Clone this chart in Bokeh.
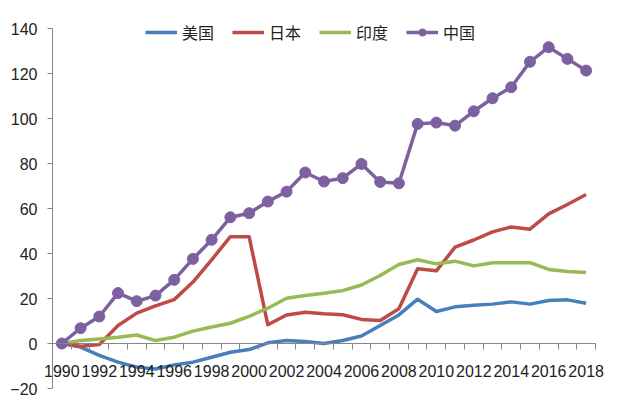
from bokeh.plotting import figure
from bokeh.models import FixedTicker, Range1d
from bokeh.embed import file_html
from bokeh.resources import INLINE

years = list(range(1990, 2019))
year_labels = list(range(1990, 2019, 2))
y_ticks = list(range(-20, 141, 20))

usa = [0, -1.6, -5.3, -8.3, -10.5, -11.3, -9.5, -8.3, -6.1, -3.9, -2.7,
       0.3, 1.3, 0.9, 0.0, 1.3, 3.3, 8.0, 12.7, 19.7, 14.2,
       16.3, 17.0, 17.5, 18.5, 17.5, 19.1, 19.4, 17.9]
japan = [0, -1.2, -0.4, 8.0, 13.5, 16.7, 19.5, 27.3, 37.2, 47.5, 47.5,
         8.3, 12.7, 13.9, 13.2, 12.8, 10.7, 10.2, 15.4, 33.2, 32.3,
         42.8, 46.0, 49.6, 51.8, 50.8, 57.6, 61.8, 66.2]
india = [0, 1.3, 2.0, 2.8, 3.8, 1.3, 2.8, 5.5, 7.3, 9.0, 12.1,
         15.7, 20.1, 21.3, 22.3, 23.5, 26.0, 30.2, 35.1, 37.2, 35.4,
         36.6, 34.5, 35.9, 35.9, 35.9, 32.9, 32.0, 31.6]
china = [0, 6.8, 12.0, 22.4, 18.8, 21.3, 28.3, 37.6, 46.1, 56.1, 57.9,
         63.1, 67.5, 76.0, 72.0, 73.5, 79.8, 71.8, 71.2, 97.6, 98.2,
         96.8, 103.2, 109.0, 113.9, 125.2, 131.7, 126.5, 121.3]

names = ["美国", "日本", "印度", "中国"]
colors = ["#4A7EBB", "#BE4B48", "#98B954", "#7D60A0"]

# Frame covers the whole canvas; the axes sit at fixed data locations,
# so nothing they draw is clipped.
W, H = 640, 405
px_x = 543 / 29.0     # pixels per year
px_y = 360 / 160.0    # pixels per unit
x0, x1 = 1989.5 - 52 / px_x, 2018.5 + (W - 595) / px_x
y0, y1 = -20 - (H - 388) / px_y, 140 + 28 / px_y

p = figure(width=W, height=H, output_backend="svg", toolbar_location=None,
           title=None, x_range=Range1d(x0, x1), y_range=Range1d(y0, y1),
           min_border=0)
p.outline_line_color = None
p.xgrid.visible = False
p.ygrid.visible = False

axis_color = "#868686"
text_color = "#222222"

xa = p.xaxis[0]
xa.ticker = FixedTicker(ticks=year_labels,
                        minor_ticks=[y - 0.5 for y in years] + [2018.5])
xa.fixed_location = 0
xa.bounds = (1989.5, 2018.5)
xa.major_tick_out = 0
xa.major_tick_in = 0
xa.minor_tick_out = 6
xa.minor_tick_in = 0
xa.axis_line_color = axis_color
xa.minor_tick_line_color = axis_color
xa.major_label_standoff = 15
xa.major_label_text_font = "Liberation Sans"
xa.major_label_text_font_size = "16px"
xa.major_label_text_color = text_color

ya = p.yaxis[0]
ya.ticker = FixedTicker(ticks=y_ticks)
ya.fixed_location = 1989.5
ya.bounds = (-20, 140)
ya.major_tick_out = 5
ya.major_tick_in = 0
ya.minor_tick_out = 0
ya.minor_tick_in = 0
ya.axis_line_color = axis_color
ya.major_tick_line_color = axis_color
ya.major_label_standoff = 10
ya.major_label_text_font = "Liberation Sans"
ya.major_label_text_font_size = "16px"
ya.major_label_text_color = text_color

series = [usa, japan, india, china]
for name, col, vals in zip(names, colors, series):
    p.line(years, vals, line_color=col, line_width=3.5, line_join="round",
           legend_label=name)
p.scatter(years, china, size=11, fill_color=colors[3], line_color=colors[3],
          legend_label=names[3])

lg = p.legend[0]
lg.orientation = "horizontal"
lg.location = (145, H - 44)
lg.border_line_color = None
lg.background_fill_alpha = 0
lg.padding = 0
lg.margin = 0
lg.spacing = 18
lg.glyph_width = 32
lg.glyph_height = 18
lg.label_height = 18
lg.label_standoff = 5
lg.label_text_font = "Noto Sans CJK SC"
lg.label_text_font_size = "16px"
lg.label_text_color = text_color

open("out.html", "w").write(file_html(p, INLINE))
